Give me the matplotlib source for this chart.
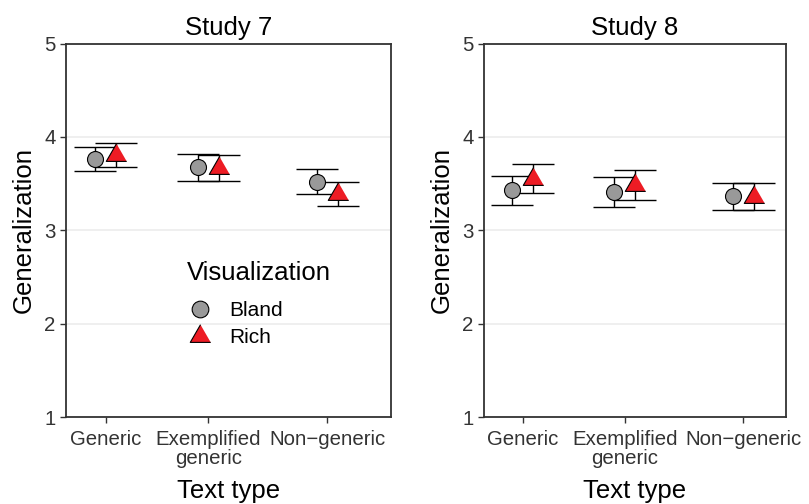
import numpy as np
import matplotlib
matplotlib.use('Agg')
import matplotlib.pyplot as plt
from matplotlib.lines import Line2D

plt.rcParams['font.family'] = ['Liberation Sans', 'DejaVu Sans']

# data (mean and 95% CI)
text_types = ['Generic', 'Exemplified\ngeneric', 'Non\u2212generic']
tick_pos = [1, 2, 3.16]

study7_bland_mean = [3.765, 3.675, 3.522]
study7_bland_lo = [3.632, 3.532, 3.390]
study7_bland_hi = [3.897, 3.818, 3.654]
study7_rich_mean = [3.810, 3.668, 3.392]
study7_rich_lo = [3.680, 3.525, 3.264]
study7_rich_hi = [3.940, 3.811, 3.520]

study8_bland_mean = [3.430, 3.414, 3.364]
study8_bland_lo = [3.275, 3.253, 3.218]
study8_bland_hi = [3.586, 3.575, 3.510]
study8_rich_mean = [3.550, 3.480, 3.360]
study8_rich_lo = [3.396, 3.320, 3.218]
study8_rich_hi = [3.707, 3.643, 3.510]

gray = '#999999'
red = '#ED1C24'
dark = '#333333'
tri = [(0, 1), (-0.866, -0.5), (0.866, -0.5)]
dodge = 0.1025


def panel(ax, title, bm, blo, bhi, rm, rlo, rhi, xlim):
    x = np.array(tick_pos)
    for xs, m, lo, hi in [(x - dodge, bm, blo, bhi), (x + dodge, rm, rlo, rhi)]:
        m = np.array(m)
        err = [m - np.array(lo), np.array(hi) - m]
        ax.errorbar(xs, m, yerr=err, fmt='none', ecolor='black',
                    elinewidth=1.0, capsize=14.8, capthick=1.0, zorder=2)
    ax.plot(x - dodge, bm, 'o', ms=11.5, mfc=gray, mec='black', mew=0.8, zorder=3)
    ax.plot(x + dodge, rm, marker=tri, ls='none', ms=17, mfc=red, mec='black',
            mew=0.8, zorder=3)
    ax.set_xlim(*xlim)
    ax.set_ylim(1, 5)
    ax.set_yticks([1, 2, 3, 4, 5])
    ax.set_xticks(tick_pos)
    ax.set_xticklabels(text_types)
    for t in ax.get_xticklabels():
        t.set_linespacing(1.0)
    ax.yaxis.grid(True, color='#EBEBEB', lw=1.1)
    ax.set_axisbelow(True)
    for s in ax.spines.values():
        s.set_color(dark)
        s.set_linewidth(1.3)
    ax.tick_params(length=4, width=1.0, color=dark, labelsize=14.7,
                   labelcolor='#333333')
    ax.tick_params(axis='x', pad=5.5)
    ax.tick_params(axis='y', pad=3.6)
    ax.set_title(title, fontsize=18.5, pad=6)
    ax.set_xlabel('Text type', fontsize=18.5, labelpad=8)
    ax.set_ylabel('Generalization', fontsize=18.5, labelpad=6)


fig = plt.figure(figsize=(8.09, 5.04), dpi=100)
ax1 = fig.add_axes([0.0816, 0.1726, 0.4011, 0.741])
ax2 = fig.add_axes([0.5983, 0.1726, 0.3727, 0.741])

panel(ax1, 'Study 7', study7_bland_mean, study7_bland_lo, study7_bland_hi,
      study7_rich_mean, study7_rich_lo, study7_rich_hi, (0.611, 3.780))
panel(ax2, 'Study 8', study8_bland_mean, study8_bland_lo, study8_bland_hi,
      study8_rich_mean, study8_rich_lo, study8_rich_hi, (0.621, 3.572))

# legend inside the Study 7 panel
ax1.text(0.373, 0.367, 'Visualization', transform=ax1.transAxes,
         fontsize=18.5, ha='left', va='baseline')
handles = [Line2D([], [], ls='none', marker='o', ms=12, mfc=gray, mec='black', mew=0.8),
           Line2D([], [], ls='none', marker=tri, ms=17, mfc=red, mec='black', mew=0.8)]
ax1.legend(handles, ['Bland', 'Rich'], loc='center left',
           bbox_to_anchor=(0.382, 0.249), frameon=False, fontsize=15,
           handlelength=0.96, handletextpad=0.91, labelspacing=0.4,
           borderpad=0, borderaxespad=0)

fig.savefig('out.png', dpi=100)
